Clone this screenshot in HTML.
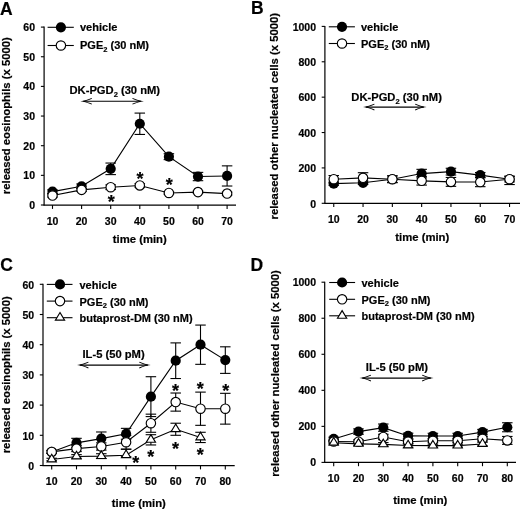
<!DOCTYPE html>
<html><head><meta charset="utf-8"><style>
html,body{margin:0;padding:0;background:#fff;}
body{width:520px;height:511px;overflow:hidden;}
svg{display:block;filter:blur(0.3px);}
text{font-family:"Liberation Sans", sans-serif;font-weight:bold;fill:#000;stroke:#000;stroke-width:0.2px;}
</style></head><body>
<svg width="520" height="511" viewBox="0 0 520 511" stroke="#000" stroke-linecap="butt">
<g stroke="none">
</g>
<g>
<line x1="44.1" y1="26.6" x2="44.1" y2="205.6" stroke-width="1.2"/>
<line x1="43.6" y1="205.1" x2="236" y2="205.1" stroke-width="1.2"/>
<line x1="40.9" y1="205" x2="44.1" y2="205" stroke-width="1.1"/>
<text x="35" y="208.9" font-size="10.5" text-anchor="end" >0</text>
<line x1="40.9" y1="175.35" x2="44.1" y2="175.35" stroke-width="1.1"/>
<text x="35" y="179.25" font-size="10.5" text-anchor="end" >10</text>
<line x1="40.9" y1="145.7" x2="44.1" y2="145.7" stroke-width="1.1"/>
<text x="35" y="149.6" font-size="10.5" text-anchor="end" >20</text>
<line x1="40.9" y1="116.05" x2="44.1" y2="116.05" stroke-width="1.1"/>
<text x="35" y="119.95" font-size="10.5" text-anchor="end" >30</text>
<line x1="40.9" y1="86.4" x2="44.1" y2="86.4" stroke-width="1.1"/>
<text x="35" y="90.3" font-size="10.5" text-anchor="end" >40</text>
<line x1="40.9" y1="56.75" x2="44.1" y2="56.75" stroke-width="1.1"/>
<text x="35" y="60.65" font-size="10.5" text-anchor="end" >50</text>
<line x1="40.9" y1="27.1" x2="44.1" y2="27.1" stroke-width="1.1"/>
<text x="35" y="31" font-size="10.5" text-anchor="end" >60</text>
<line x1="52.5" y1="205.1" x2="52.5" y2="208.9" stroke-width="1.1"/>
<text x="52.5" y="224.6" font-size="10.5" text-anchor="middle" >10</text>
<line x1="81.6" y1="205.1" x2="81.6" y2="208.9" stroke-width="1.1"/>
<text x="81.6" y="224.6" font-size="10.5" text-anchor="middle" >20</text>
<line x1="110.7" y1="205.1" x2="110.7" y2="208.9" stroke-width="1.1"/>
<text x="110.7" y="224.6" font-size="10.5" text-anchor="middle" >30</text>
<line x1="139.8" y1="205.1" x2="139.8" y2="208.9" stroke-width="1.1"/>
<text x="139.8" y="224.6" font-size="10.5" text-anchor="middle" >40</text>
<line x1="168.9" y1="205.1" x2="168.9" y2="208.9" stroke-width="1.1"/>
<text x="168.9" y="224.6" font-size="10.5" text-anchor="middle" >50</text>
<line x1="198" y1="205.1" x2="198" y2="208.9" stroke-width="1.1"/>
<text x="198" y="224.6" font-size="10.5" text-anchor="middle" >60</text>
<line x1="227.1" y1="205.1" x2="227.1" y2="208.9" stroke-width="1.1"/>
<text x="227.1" y="224.6" font-size="10.5" text-anchor="middle" >70</text>
<text x="139.8" y="243.2" font-size="11.3" text-anchor="middle" >time (min)</text>
<text transform="translate(9.6,115.7) rotate(-90)" font-size="11.3" text-anchor="middle">released eosinophils (x 5000)</text>
<text transform="translate(0,14.5) scale(1,1.08)" font-size="17.5">A</text>
<polyline fill="none" stroke-width="1.1" points="52.5,191.66 81.6,186.32 110.7,168.83 139.8,123.76 168.9,156.67 198,176.54 227.1,175.94"/>
<polyline fill="none" stroke-width="1.1" points="52.5,195.51 81.6,189.88 110.7,187.21 139.8,185.43 168.9,192.99 198,192.1 227.1,193.58"/>
<line x1="52.5" y1="189.88" x2="52.5" y2="193.44" stroke-width="1.1"/>
<line x1="47.25" y1="189.88" x2="57.75" y2="189.88" stroke-width="1.1"/>
<line x1="47.25" y1="193.44" x2="57.75" y2="193.44" stroke-width="1.1"/>
<line x1="81.6" y1="183.95" x2="81.6" y2="188.69" stroke-width="1.1"/>
<line x1="76.35" y1="183.95" x2="86.85" y2="183.95" stroke-width="1.1"/>
<line x1="76.35" y1="188.69" x2="86.85" y2="188.69" stroke-width="1.1"/>
<line x1="110.7" y1="163.05" x2="110.7" y2="174.61" stroke-width="1.1"/>
<line x1="105.45" y1="163.05" x2="115.95" y2="163.05" stroke-width="1.1"/>
<line x1="105.45" y1="174.61" x2="115.95" y2="174.61" stroke-width="1.1"/>
<line x1="139.8" y1="113.09" x2="139.8" y2="134.43" stroke-width="1.1"/>
<line x1="134.55" y1="113.09" x2="145.05" y2="113.09" stroke-width="1.1"/>
<line x1="134.55" y1="134.43" x2="145.05" y2="134.43" stroke-width="1.1"/>
<line x1="168.9" y1="153.71" x2="168.9" y2="159.64" stroke-width="1.1"/>
<line x1="163.65" y1="153.71" x2="174.15" y2="153.71" stroke-width="1.1"/>
<line x1="163.65" y1="159.64" x2="174.15" y2="159.64" stroke-width="1.1"/>
<line x1="198" y1="172.38" x2="198" y2="180.69" stroke-width="1.1"/>
<line x1="192.75" y1="172.38" x2="203.25" y2="172.38" stroke-width="1.1"/>
<line x1="192.75" y1="180.69" x2="203.25" y2="180.69" stroke-width="1.1"/>
<line x1="227.1" y1="165.86" x2="227.1" y2="186.02" stroke-width="1.1"/>
<line x1="221.85" y1="165.86" x2="232.35" y2="165.86" stroke-width="1.1"/>
<line x1="221.85" y1="186.02" x2="232.35" y2="186.02" stroke-width="1.1"/>
<line x1="52.5" y1="194.03" x2="52.5" y2="196.99" stroke-width="1.1"/>
<line x1="47.25" y1="194.03" x2="57.75" y2="194.03" stroke-width="1.1"/>
<line x1="47.25" y1="196.99" x2="57.75" y2="196.99" stroke-width="1.1"/>
<line x1="81.6" y1="188.4" x2="81.6" y2="191.36" stroke-width="1.1"/>
<line x1="76.35" y1="188.4" x2="86.85" y2="188.4" stroke-width="1.1"/>
<line x1="76.35" y1="191.36" x2="86.85" y2="191.36" stroke-width="1.1"/>
<line x1="110.7" y1="184.84" x2="110.7" y2="189.58" stroke-width="1.1"/>
<line x1="105.45" y1="184.84" x2="115.95" y2="184.84" stroke-width="1.1"/>
<line x1="105.45" y1="189.58" x2="115.95" y2="189.58" stroke-width="1.1"/>
<line x1="139.8" y1="183.65" x2="139.8" y2="187.21" stroke-width="1.1"/>
<line x1="134.55" y1="183.65" x2="145.05" y2="183.65" stroke-width="1.1"/>
<line x1="134.55" y1="187.21" x2="145.05" y2="187.21" stroke-width="1.1"/>
<line x1="168.9" y1="191.81" x2="168.9" y2="194.18" stroke-width="1.1"/>
<line x1="163.65" y1="191.81" x2="174.15" y2="191.81" stroke-width="1.1"/>
<line x1="163.65" y1="194.18" x2="174.15" y2="194.18" stroke-width="1.1"/>
<line x1="198" y1="190.92" x2="198" y2="193.29" stroke-width="1.1"/>
<line x1="192.75" y1="190.92" x2="203.25" y2="190.92" stroke-width="1.1"/>
<line x1="192.75" y1="193.29" x2="203.25" y2="193.29" stroke-width="1.1"/>
<line x1="227.1" y1="192.1" x2="227.1" y2="195.07" stroke-width="1.1"/>
<line x1="221.85" y1="192.1" x2="232.35" y2="192.1" stroke-width="1.1"/>
<line x1="221.85" y1="195.07" x2="232.35" y2="195.07" stroke-width="1.1"/>
<circle cx="52.5" cy="191.66" r="5.1" fill="#000" stroke="none"/>
<circle cx="81.6" cy="186.32" r="5.1" fill="#000" stroke="none"/>
<circle cx="110.7" cy="168.83" r="5.1" fill="#000" stroke="none"/>
<circle cx="139.8" cy="123.76" r="5.1" fill="#000" stroke="none"/>
<circle cx="168.9" cy="156.67" r="5.1" fill="#000" stroke="none"/>
<circle cx="198" cy="176.54" r="5.1" fill="#000" stroke="none"/>
<circle cx="227.1" cy="175.94" r="5.1" fill="#000" stroke="none"/>
<circle cx="52.5" cy="195.51" r="4.7" fill="#fff" stroke-width="1.15"/>
<circle cx="81.6" cy="189.88" r="4.7" fill="#fff" stroke-width="1.15"/>
<circle cx="110.7" cy="187.21" r="4.7" fill="#fff" stroke-width="1.15"/>
<circle cx="139.8" cy="185.43" r="4.7" fill="#fff" stroke-width="1.15"/>
<circle cx="168.9" cy="192.99" r="4.7" fill="#fff" stroke-width="1.15"/>
<circle cx="198" cy="192.1" r="4.7" fill="#fff" stroke-width="1.15"/>
<circle cx="227.1" cy="193.58" r="4.7" fill="#fff" stroke-width="1.15"/>
<line x1="47.6" y1="27.3" x2="73.8" y2="27.3" stroke-width="1.1"/>
<circle cx="60.9" cy="27.3" r="5.1" fill="#000" stroke="none"/>
<text x="80" y="31.1" font-size="11" text-anchor="start" >vehicle</text>
<line x1="47.6" y1="45.5" x2="73.8" y2="45.5" stroke-width="1.1"/>
<circle cx="60.9" cy="45.5" r="4.7" fill="#fff" stroke-width="1.15"/>
<text x="80" y="49.3" font-size="11" text-anchor="start" >PGE<tspan font-size="7.5" dy="2.5">2</tspan><tspan dy="-2.5"> (30 nM)</tspan></text>
<line x1="83.2" y1="101.3" x2="141.1" y2="101.3" stroke-width="1.1"/>
<path d="M80.4 101.3C84.4 100.7 88.4 99.5 91.6 98L92 98.8C88.4 100.2 85.9 100.9 84.9 101.3C85.9 101.7 88.4 102.4 92 103.8L91.6 104.6C88.4 103.1 84.4 101.9 80.4 101.3Z" fill="#000" stroke="none"/>
<path d="M143.9 101.3C139.9 100.7 135.9 99.5 132.7 98L132.3 98.8C135.9 100.2 138.4 100.9 139.4 101.3C138.4 101.7 135.9 102.4 132.3 103.8L132.7 104.6C135.9 103.1 139.9 101.9 143.9 101.3Z" fill="#000" stroke="none"/>
<text x="69.5" y="94.3" font-size="11.2" text-anchor="start" >DK-PGD<tspan font-size="7.5" dy="2.5">2</tspan><tspan dy="-2.5"> (30 nM)</tspan></text>
<text x="111.3" y="207.67" font-size="18" text-anchor="middle" >*</text>
<text x="140.1" y="184.57" font-size="18" text-anchor="middle" >*</text>
<text x="169.2" y="191.47" font-size="18" text-anchor="middle" >*</text>
</g>
<g>
<line x1="324.9" y1="25.9" x2="324.9" y2="203.8" stroke-width="1.2"/>
<line x1="324.4" y1="203.3" x2="520" y2="203.3" stroke-width="1.2"/>
<line x1="321.7" y1="203.3" x2="324.9" y2="203.3" stroke-width="1.1"/>
<text x="316" y="207.6" font-size="10.5" text-anchor="end" >0</text>
<line x1="321.7" y1="167.92" x2="324.9" y2="167.92" stroke-width="1.1"/>
<text x="316" y="172.22" font-size="10.5" text-anchor="end" >200</text>
<line x1="321.7" y1="132.54" x2="324.9" y2="132.54" stroke-width="1.1"/>
<text x="316" y="136.84" font-size="10.5" text-anchor="end" >400</text>
<line x1="321.7" y1="97.16" x2="324.9" y2="97.16" stroke-width="1.1"/>
<text x="316" y="101.46" font-size="10.5" text-anchor="end" >600</text>
<line x1="321.7" y1="61.78" x2="324.9" y2="61.78" stroke-width="1.1"/>
<text x="316" y="66.08" font-size="10.5" text-anchor="end" >800</text>
<line x1="321.7" y1="26.4" x2="324.9" y2="26.4" stroke-width="1.1"/>
<text x="316" y="30.7" font-size="10.5" text-anchor="end" >1000</text>
<line x1="333.75" y1="203.3" x2="333.75" y2="207.1" stroke-width="1.1"/>
<text x="333.75" y="222.7" font-size="10.5" text-anchor="middle" >10</text>
<line x1="363.05" y1="203.3" x2="363.05" y2="207.1" stroke-width="1.1"/>
<text x="363.05" y="222.7" font-size="10.5" text-anchor="middle" >20</text>
<line x1="392.35" y1="203.3" x2="392.35" y2="207.1" stroke-width="1.1"/>
<text x="392.35" y="222.7" font-size="10.5" text-anchor="middle" >30</text>
<line x1="421.65" y1="203.3" x2="421.65" y2="207.1" stroke-width="1.1"/>
<text x="421.65" y="222.7" font-size="10.5" text-anchor="middle" >40</text>
<line x1="450.95" y1="203.3" x2="450.95" y2="207.1" stroke-width="1.1"/>
<text x="450.95" y="222.7" font-size="10.5" text-anchor="middle" >50</text>
<line x1="480.25" y1="203.3" x2="480.25" y2="207.1" stroke-width="1.1"/>
<text x="480.25" y="222.7" font-size="10.5" text-anchor="middle" >60</text>
<line x1="509.55" y1="203.3" x2="509.55" y2="207.1" stroke-width="1.1"/>
<text x="509.55" y="222.7" font-size="10.5" text-anchor="middle" >70</text>
<text x="422.3" y="240.9" font-size="11.3" text-anchor="middle" >time (min)</text>
<text transform="translate(278,116.2) rotate(-90)" font-size="11.3" text-anchor="middle">released other nucleated cells (x 5000)</text>
<text transform="translate(251,13.6) scale(1,1.08)" font-size="17.5">B</text>
<polyline fill="none" stroke-width="1.1" points="333.75,183.66 363.05,182.78 392.35,179.24 421.65,173.58 450.95,171.63 480.25,175.17 509.55,179.24"/>
<polyline fill="none" stroke-width="1.1" points="333.75,179.24 363.05,177.83 392.35,179.24 421.65,180.83 450.95,181.9 480.25,182.07 509.55,179.24"/>
<line x1="333.75" y1="182.07" x2="333.75" y2="185.26" stroke-width="1.1"/>
<line x1="328.5" y1="182.07" x2="339" y2="182.07" stroke-width="1.1"/>
<line x1="328.5" y1="185.26" x2="339" y2="185.26" stroke-width="1.1"/>
<line x1="363.05" y1="181.01" x2="363.05" y2="184.55" stroke-width="1.1"/>
<line x1="357.8" y1="181.01" x2="368.3" y2="181.01" stroke-width="1.1"/>
<line x1="357.8" y1="184.55" x2="368.3" y2="184.55" stroke-width="1.1"/>
<line x1="392.35" y1="175.88" x2="392.35" y2="182.6" stroke-width="1.1"/>
<line x1="387.1" y1="175.88" x2="397.6" y2="175.88" stroke-width="1.1"/>
<line x1="387.1" y1="182.6" x2="397.6" y2="182.6" stroke-width="1.1"/>
<line x1="421.65" y1="169.34" x2="421.65" y2="177.83" stroke-width="1.1"/>
<line x1="416.4" y1="169.34" x2="426.9" y2="169.34" stroke-width="1.1"/>
<line x1="416.4" y1="177.83" x2="426.9" y2="177.83" stroke-width="1.1"/>
<line x1="450.95" y1="168.27" x2="450.95" y2="175" stroke-width="1.1"/>
<line x1="445.7" y1="168.27" x2="456.2" y2="168.27" stroke-width="1.1"/>
<line x1="445.7" y1="175" x2="456.2" y2="175" stroke-width="1.1"/>
<line x1="480.25" y1="172.52" x2="480.25" y2="177.83" stroke-width="1.1"/>
<line x1="475" y1="172.52" x2="485.5" y2="172.52" stroke-width="1.1"/>
<line x1="475" y1="177.83" x2="485.5" y2="177.83" stroke-width="1.1"/>
<line x1="509.55" y1="176.59" x2="509.55" y2="181.9" stroke-width="1.1"/>
<line x1="504.3" y1="176.59" x2="514.8" y2="176.59" stroke-width="1.1"/>
<line x1="504.3" y1="181.9" x2="514.8" y2="181.9" stroke-width="1.1"/>
<line x1="333.75" y1="175.53" x2="333.75" y2="182.96" stroke-width="1.1"/>
<line x1="328.5" y1="175.53" x2="339" y2="175.53" stroke-width="1.1"/>
<line x1="328.5" y1="182.96" x2="339" y2="182.96" stroke-width="1.1"/>
<line x1="363.05" y1="172.7" x2="363.05" y2="182.96" stroke-width="1.1"/>
<line x1="357.8" y1="172.7" x2="368.3" y2="172.7" stroke-width="1.1"/>
<line x1="357.8" y1="182.96" x2="368.3" y2="182.96" stroke-width="1.1"/>
<line x1="392.35" y1="175.88" x2="392.35" y2="182.6" stroke-width="1.1"/>
<line x1="387.1" y1="175.88" x2="397.6" y2="175.88" stroke-width="1.1"/>
<line x1="387.1" y1="182.6" x2="397.6" y2="182.6" stroke-width="1.1"/>
<line x1="421.65" y1="176.59" x2="421.65" y2="185.08" stroke-width="1.1"/>
<line x1="416.4" y1="176.59" x2="426.9" y2="176.59" stroke-width="1.1"/>
<line x1="416.4" y1="185.08" x2="426.9" y2="185.08" stroke-width="1.1"/>
<line x1="450.95" y1="177.47" x2="450.95" y2="186.32" stroke-width="1.1"/>
<line x1="445.7" y1="177.47" x2="456.2" y2="177.47" stroke-width="1.1"/>
<line x1="445.7" y1="186.32" x2="456.2" y2="186.32" stroke-width="1.1"/>
<line x1="480.25" y1="177.47" x2="480.25" y2="186.67" stroke-width="1.1"/>
<line x1="475" y1="177.47" x2="485.5" y2="177.47" stroke-width="1.1"/>
<line x1="475" y1="186.67" x2="485.5" y2="186.67" stroke-width="1.1"/>
<line x1="509.55" y1="176.06" x2="509.55" y2="184.55" stroke-width="1.1"/>
<line x1="504.3" y1="176.06" x2="514.8" y2="176.06" stroke-width="1.1"/>
<line x1="504.3" y1="184.55" x2="514.8" y2="184.55" stroke-width="1.1"/>
<circle cx="333.75" cy="183.66" r="5.1" fill="#000" stroke="none"/>
<circle cx="363.05" cy="182.78" r="5.1" fill="#000" stroke="none"/>
<circle cx="392.35" cy="179.24" r="5.1" fill="#000" stroke="none"/>
<circle cx="421.65" cy="173.58" r="5.1" fill="#000" stroke="none"/>
<circle cx="450.95" cy="171.63" r="5.1" fill="#000" stroke="none"/>
<circle cx="480.25" cy="175.17" r="5.1" fill="#000" stroke="none"/>
<circle cx="509.55" cy="179.24" r="5.1" fill="#000" stroke="none"/>
<circle cx="333.75" cy="179.24" r="4.7" fill="#fff" stroke-width="1.15"/>
<circle cx="363.05" cy="177.83" r="4.7" fill="#fff" stroke-width="1.15"/>
<circle cx="392.35" cy="179.24" r="4.7" fill="#fff" stroke-width="1.15"/>
<circle cx="421.65" cy="180.83" r="4.7" fill="#fff" stroke-width="1.15"/>
<circle cx="450.95" cy="181.9" r="4.7" fill="#fff" stroke-width="1.15"/>
<circle cx="480.25" cy="182.07" r="4.7" fill="#fff" stroke-width="1.15"/>
<circle cx="509.55" cy="179.24" r="4.7" fill="#fff" stroke-width="1.15"/>
<line x1="328.8" y1="26.8" x2="354.9" y2="26.8" stroke-width="1.1"/>
<circle cx="342" cy="26.8" r="5.1" fill="#000" stroke="none"/>
<text x="361" y="31.2" font-size="11" text-anchor="start" >vehicle</text>
<line x1="328.8" y1="43.5" x2="354.9" y2="43.5" stroke-width="1.1"/>
<circle cx="342" cy="43.5" r="4.7" fill="#fff" stroke-width="1.15"/>
<text x="361" y="47.9" font-size="11" text-anchor="start" >PGE<tspan font-size="7.5" dy="2.5">2</tspan><tspan dy="-2.5"> (30 nM)</tspan></text>
<line x1="365.8" y1="107.1" x2="423.8" y2="107.1" stroke-width="1.1"/>
<path d="M363 107.1C367 106.5 371 105.3 374.2 103.8L374.6 104.6C371 106 368.5 106.7 367.5 107.1C368.5 107.5 371 108.2 374.6 109.6L374.2 110.4C371 108.9 367 107.7 363 107.1Z" fill="#000" stroke="none"/>
<path d="M426.6 107.1C422.6 106.5 418.6 105.3 415.4 103.8L415 104.6C418.6 106 421.1 106.7 422.1 107.1C421.1 107.5 418.6 108.2 415 109.6L415.4 110.4C418.6 108.9 422.6 107.7 426.6 107.1Z" fill="#000" stroke="none"/>
<text x="351.3" y="101.2" font-size="11.2" text-anchor="start" >DK-PGD<tspan font-size="7.5" dy="2.5">2</tspan><tspan dy="-2.5"> (30 nM)</tspan></text>
</g>
<g>
<line x1="43" y1="283.8" x2="43" y2="466.1" stroke-width="1.2"/>
<line x1="42.5" y1="465.6" x2="234.7" y2="465.6" stroke-width="1.2"/>
<line x1="39.8" y1="465.5" x2="43" y2="465.5" stroke-width="1.1"/>
<text x="34.2" y="469.7" font-size="10.5" text-anchor="end" >0</text>
<line x1="39.8" y1="435.3" x2="43" y2="435.3" stroke-width="1.1"/>
<text x="34.2" y="439.5" font-size="10.5" text-anchor="end" >10</text>
<line x1="39.8" y1="405.1" x2="43" y2="405.1" stroke-width="1.1"/>
<text x="34.2" y="409.3" font-size="10.5" text-anchor="end" >20</text>
<line x1="39.8" y1="374.9" x2="43" y2="374.9" stroke-width="1.1"/>
<text x="34.2" y="379.1" font-size="10.5" text-anchor="end" >30</text>
<line x1="39.8" y1="344.7" x2="43" y2="344.7" stroke-width="1.1"/>
<text x="34.2" y="348.9" font-size="10.5" text-anchor="end" >40</text>
<line x1="39.8" y1="314.5" x2="43" y2="314.5" stroke-width="1.1"/>
<text x="34.2" y="318.7" font-size="10.5" text-anchor="end" >50</text>
<line x1="39.8" y1="284.3" x2="43" y2="284.3" stroke-width="1.1"/>
<text x="34.2" y="288.5" font-size="10.5" text-anchor="end" >60</text>
<line x1="51.7" y1="465.6" x2="51.7" y2="469.4" stroke-width="1.1"/>
<text x="51.7" y="484.8" font-size="10.5" text-anchor="middle" >10</text>
<line x1="76.5" y1="465.6" x2="76.5" y2="469.4" stroke-width="1.1"/>
<text x="76.5" y="484.8" font-size="10.5" text-anchor="middle" >20</text>
<line x1="101.3" y1="465.6" x2="101.3" y2="469.4" stroke-width="1.1"/>
<text x="101.3" y="484.8" font-size="10.5" text-anchor="middle" >30</text>
<line x1="126.1" y1="465.6" x2="126.1" y2="469.4" stroke-width="1.1"/>
<text x="126.1" y="484.8" font-size="10.5" text-anchor="middle" >40</text>
<line x1="150.9" y1="465.6" x2="150.9" y2="469.4" stroke-width="1.1"/>
<text x="150.9" y="484.8" font-size="10.5" text-anchor="middle" >50</text>
<line x1="175.7" y1="465.6" x2="175.7" y2="469.4" stroke-width="1.1"/>
<text x="175.7" y="484.8" font-size="10.5" text-anchor="middle" >60</text>
<line x1="200.5" y1="465.6" x2="200.5" y2="469.4" stroke-width="1.1"/>
<text x="200.5" y="484.8" font-size="10.5" text-anchor="middle" >70</text>
<line x1="225.3" y1="465.6" x2="225.3" y2="469.4" stroke-width="1.1"/>
<text x="225.3" y="484.8" font-size="10.5" text-anchor="middle" >80</text>
<text x="138.85" y="507.4" font-size="11.3" text-anchor="middle" >time (min)</text>
<text transform="translate(9.5,374.8) rotate(-90)" font-size="11.3" text-anchor="middle">released eosinophils (x 5000)</text>
<text transform="translate(0.2,270.8) scale(1,1.08)" font-size="17.5">C</text>
<polyline fill="none" stroke-width="1.1" points="51.7,451.91 76.5,442.85 101.3,438.62 126.1,433.79 150.9,396.64 175.7,360.71 200.5,344.7 225.3,360.1"/>
<polyline fill="none" stroke-width="1.1" points="51.7,451.91 76.5,448.59 101.3,446.47 126.1,442.25 150.9,423.22 175.7,402.08 200.5,408.72 225.3,408.72"/>
<polyline fill="none" stroke-width="1.1" points="51.7,459.46 76.5,456.44 101.3,456.14 126.1,455.23 150.9,439.83 175.7,429.26 200.5,437.41"/>
<line x1="51.7" y1="450.4" x2="51.7" y2="453.42" stroke-width="1.1"/>
<line x1="46.45" y1="450.4" x2="56.95" y2="450.4" stroke-width="1.1"/>
<line x1="46.45" y1="453.42" x2="56.95" y2="453.42" stroke-width="1.1"/>
<line x1="76.5" y1="438.32" x2="76.5" y2="447.38" stroke-width="1.1"/>
<line x1="71.25" y1="438.32" x2="81.75" y2="438.32" stroke-width="1.1"/>
<line x1="71.25" y1="447.38" x2="81.75" y2="447.38" stroke-width="1.1"/>
<line x1="101.3" y1="431.98" x2="101.3" y2="445.27" stroke-width="1.1"/>
<line x1="96.05" y1="431.98" x2="106.55" y2="431.98" stroke-width="1.1"/>
<line x1="96.05" y1="445.27" x2="106.55" y2="445.27" stroke-width="1.1"/>
<line x1="126.1" y1="428.35" x2="126.1" y2="439.23" stroke-width="1.1"/>
<line x1="120.85" y1="428.35" x2="131.35" y2="428.35" stroke-width="1.1"/>
<line x1="120.85" y1="439.23" x2="131.35" y2="439.23" stroke-width="1.1"/>
<line x1="150.9" y1="376.71" x2="150.9" y2="416.58" stroke-width="1.1"/>
<line x1="145.65" y1="376.71" x2="156.15" y2="376.71" stroke-width="1.1"/>
<line x1="145.65" y1="416.58" x2="156.15" y2="416.58" stroke-width="1.1"/>
<line x1="175.7" y1="342.89" x2="175.7" y2="378.52" stroke-width="1.1"/>
<line x1="170.45" y1="342.89" x2="180.95" y2="342.89" stroke-width="1.1"/>
<line x1="170.45" y1="378.52" x2="180.95" y2="378.52" stroke-width="1.1"/>
<line x1="200.5" y1="325.07" x2="200.5" y2="364.33" stroke-width="1.1"/>
<line x1="195.25" y1="325.07" x2="205.75" y2="325.07" stroke-width="1.1"/>
<line x1="195.25" y1="364.33" x2="205.75" y2="364.33" stroke-width="1.1"/>
<line x1="225.3" y1="346.81" x2="225.3" y2="373.39" stroke-width="1.1"/>
<line x1="220.05" y1="346.81" x2="230.55" y2="346.81" stroke-width="1.1"/>
<line x1="220.05" y1="373.39" x2="230.55" y2="373.39" stroke-width="1.1"/>
<line x1="51.7" y1="450.4" x2="51.7" y2="453.42" stroke-width="1.1"/>
<line x1="46.45" y1="450.4" x2="56.95" y2="450.4" stroke-width="1.1"/>
<line x1="46.45" y1="453.42" x2="56.95" y2="453.42" stroke-width="1.1"/>
<line x1="76.5" y1="445.57" x2="76.5" y2="451.61" stroke-width="1.1"/>
<line x1="71.25" y1="445.57" x2="81.75" y2="445.57" stroke-width="1.1"/>
<line x1="71.25" y1="451.61" x2="81.75" y2="451.61" stroke-width="1.1"/>
<line x1="101.3" y1="442.85" x2="101.3" y2="450.1" stroke-width="1.1"/>
<line x1="96.05" y1="442.85" x2="106.55" y2="442.85" stroke-width="1.1"/>
<line x1="96.05" y1="450.1" x2="106.55" y2="450.1" stroke-width="1.1"/>
<line x1="126.1" y1="435.3" x2="126.1" y2="449.19" stroke-width="1.1"/>
<line x1="120.85" y1="435.3" x2="131.35" y2="435.3" stroke-width="1.1"/>
<line x1="120.85" y1="449.19" x2="131.35" y2="449.19" stroke-width="1.1"/>
<line x1="150.9" y1="414.16" x2="150.9" y2="432.28" stroke-width="1.1"/>
<line x1="145.65" y1="414.16" x2="156.15" y2="414.16" stroke-width="1.1"/>
<line x1="145.65" y1="432.28" x2="156.15" y2="432.28" stroke-width="1.1"/>
<line x1="175.7" y1="393.02" x2="175.7" y2="411.14" stroke-width="1.1"/>
<line x1="170.45" y1="393.02" x2="180.95" y2="393.02" stroke-width="1.1"/>
<line x1="170.45" y1="411.14" x2="180.95" y2="411.14" stroke-width="1.1"/>
<line x1="200.5" y1="392.11" x2="200.5" y2="425.33" stroke-width="1.1"/>
<line x1="195.25" y1="392.11" x2="205.75" y2="392.11" stroke-width="1.1"/>
<line x1="195.25" y1="425.33" x2="205.75" y2="425.33" stroke-width="1.1"/>
<line x1="225.3" y1="393.32" x2="225.3" y2="424.13" stroke-width="1.1"/>
<line x1="220.05" y1="393.32" x2="230.55" y2="393.32" stroke-width="1.1"/>
<line x1="220.05" y1="424.13" x2="230.55" y2="424.13" stroke-width="1.1"/>
<line x1="51.7" y1="458.25" x2="51.7" y2="460.67" stroke-width="1.1"/>
<line x1="46.45" y1="458.25" x2="56.95" y2="458.25" stroke-width="1.1"/>
<line x1="46.45" y1="460.67" x2="56.95" y2="460.67" stroke-width="1.1"/>
<line x1="76.5" y1="454.63" x2="76.5" y2="458.25" stroke-width="1.1"/>
<line x1="71.25" y1="454.63" x2="81.75" y2="454.63" stroke-width="1.1"/>
<line x1="71.25" y1="458.25" x2="81.75" y2="458.25" stroke-width="1.1"/>
<line x1="101.3" y1="453.72" x2="101.3" y2="458.55" stroke-width="1.1"/>
<line x1="96.05" y1="453.72" x2="106.55" y2="453.72" stroke-width="1.1"/>
<line x1="96.05" y1="458.55" x2="106.55" y2="458.55" stroke-width="1.1"/>
<line x1="126.1" y1="449.19" x2="126.1" y2="456.74" stroke-width="1.1"/>
<line x1="120.85" y1="449.19" x2="131.35" y2="449.19" stroke-width="1.1"/>
<line x1="120.85" y1="456.74" x2="131.35" y2="456.74" stroke-width="1.1"/>
<line x1="150.9" y1="434.7" x2="150.9" y2="444.96" stroke-width="1.1"/>
<line x1="145.65" y1="434.7" x2="156.15" y2="434.7" stroke-width="1.1"/>
<line x1="145.65" y1="444.96" x2="156.15" y2="444.96" stroke-width="1.1"/>
<line x1="175.7" y1="423.22" x2="175.7" y2="435.3" stroke-width="1.1"/>
<line x1="170.45" y1="423.22" x2="180.95" y2="423.22" stroke-width="1.1"/>
<line x1="170.45" y1="435.3" x2="180.95" y2="435.3" stroke-width="1.1"/>
<line x1="200.5" y1="432.28" x2="200.5" y2="442.55" stroke-width="1.1"/>
<line x1="195.25" y1="432.28" x2="205.75" y2="432.28" stroke-width="1.1"/>
<line x1="195.25" y1="442.55" x2="205.75" y2="442.55" stroke-width="1.1"/>
<circle cx="51.7" cy="451.91" r="5.1" fill="#000" stroke="none"/>
<circle cx="76.5" cy="442.85" r="5.1" fill="#000" stroke="none"/>
<circle cx="101.3" cy="438.62" r="5.1" fill="#000" stroke="none"/>
<circle cx="126.1" cy="433.79" r="5.1" fill="#000" stroke="none"/>
<circle cx="150.9" cy="396.64" r="5.1" fill="#000" stroke="none"/>
<circle cx="175.7" cy="360.71" r="5.1" fill="#000" stroke="none"/>
<circle cx="200.5" cy="344.7" r="5.1" fill="#000" stroke="none"/>
<circle cx="225.3" cy="360.1" r="5.1" fill="#000" stroke="none"/>
<circle cx="51.7" cy="451.91" r="4.7" fill="#fff" stroke-width="1.15"/>
<circle cx="76.5" cy="448.59" r="4.7" fill="#fff" stroke-width="1.15"/>
<circle cx="101.3" cy="446.47" r="4.7" fill="#fff" stroke-width="1.15"/>
<circle cx="126.1" cy="442.25" r="4.7" fill="#fff" stroke-width="1.15"/>
<circle cx="150.9" cy="423.22" r="4.7" fill="#fff" stroke-width="1.15"/>
<circle cx="175.7" cy="402.08" r="4.7" fill="#fff" stroke-width="1.15"/>
<circle cx="200.5" cy="408.72" r="4.7" fill="#fff" stroke-width="1.15"/>
<circle cx="225.3" cy="408.72" r="4.7" fill="#fff" stroke-width="1.15"/>
<path d="M51.7 454.26L56.3 461.86L47.1 461.86Z" fill="#fff" stroke-width="1.15" stroke-linejoin="miter"/>
<path d="M76.5 451.24L81.1 458.84L71.9 458.84Z" fill="#fff" stroke-width="1.15" stroke-linejoin="miter"/>
<path d="M101.3 450.94L105.9 458.54L96.7 458.54Z" fill="#fff" stroke-width="1.15" stroke-linejoin="miter"/>
<path d="M126.1 450.03L130.7 457.63L121.5 457.63Z" fill="#fff" stroke-width="1.15" stroke-linejoin="miter"/>
<path d="M150.9 434.63L155.5 442.23L146.3 442.23Z" fill="#fff" stroke-width="1.15" stroke-linejoin="miter"/>
<path d="M175.7 424.06L180.3 431.66L171.1 431.66Z" fill="#fff" stroke-width="1.15" stroke-linejoin="miter"/>
<path d="M200.5 432.21L205.1 439.81L195.9 439.81Z" fill="#fff" stroke-width="1.15" stroke-linejoin="miter"/>
<line x1="46.8" y1="284.4" x2="72.5" y2="284.4" stroke-width="1.1"/>
<circle cx="60" cy="284.4" r="5.1" fill="#000" stroke="none"/>
<text x="79.5" y="288.8" font-size="11" text-anchor="start" >vehicle</text>
<line x1="46.8" y1="301.1" x2="72.5" y2="301.1" stroke-width="1.1"/>
<circle cx="60" cy="301.1" r="4.7" fill="#fff" stroke-width="1.15"/>
<text x="79.5" y="305.5" font-size="11" text-anchor="start" >PGE<tspan font-size="7.5" dy="2.5">2</tspan><tspan dy="-2.5"> (30 nM)</tspan></text>
<line x1="46.8" y1="317.7" x2="72.5" y2="317.7" stroke-width="1.1"/>
<path d="M60 312.5L64.6 320.1L55.4 320.1Z" fill="#fff" stroke-width="1.15" stroke-linejoin="miter"/>
<text x="79.5" y="322.1" font-size="11" text-anchor="start" >butaprost-DM (30 nM)</text>
<line x1="79.8" y1="365.1" x2="147.9" y2="365.1" stroke-width="1.1"/>
<path d="M77 365.1C81 364.5 85 363.3 88.2 361.8L88.6 362.6C85 364 82.5 364.7 81.5 365.1C82.5 365.5 85 366.2 88.6 367.6L88.2 368.4C85 366.9 81 365.7 77 365.1Z" fill="#000" stroke="none"/>
<path d="M150.7 365.1C146.7 364.5 142.7 363.3 139.5 361.8L139.1 362.6C142.7 364 145.2 364.7 146.2 365.1C145.2 365.5 142.7 366.2 139.1 367.6L139.5 368.4C142.7 366.9 146.7 365.7 150.7 365.1Z" fill="#000" stroke="none"/>
<text x="82.5" y="358.3" font-size="11.2" text-anchor="start" >IL-5 (50 pM)</text>
<text x="135.7" y="468.97" font-size="18" text-anchor="middle" >*</text>
<text x="150.7" y="463.17" font-size="18" text-anchor="middle" >*</text>
<text x="175.6" y="396.57" font-size="18" text-anchor="middle" >*</text>
<text x="200.3" y="394.87" font-size="18" text-anchor="middle" >*</text>
<text x="225.7" y="396.57" font-size="18" text-anchor="middle" >*</text>
<text x="175.4" y="455.17" font-size="18" text-anchor="middle" >*</text>
<text x="200.3" y="461.37" font-size="18" text-anchor="middle" >*</text>
</g>
<g>
<line x1="324.7" y1="281.7" x2="324.7" y2="462.9" stroke-width="1.2"/>
<line x1="324.2" y1="462.4" x2="516" y2="462.4" stroke-width="1.2"/>
<line x1="321.5" y1="462.4" x2="324.7" y2="462.4" stroke-width="1.1"/>
<text x="316" y="466.3" font-size="10.5" text-anchor="end" >0</text>
<line x1="321.5" y1="426.36" x2="324.7" y2="426.36" stroke-width="1.1"/>
<text x="316" y="430.26" font-size="10.5" text-anchor="end" >200</text>
<line x1="321.5" y1="390.32" x2="324.7" y2="390.32" stroke-width="1.1"/>
<text x="316" y="394.22" font-size="10.5" text-anchor="end" >400</text>
<line x1="321.5" y1="354.28" x2="324.7" y2="354.28" stroke-width="1.1"/>
<text x="316" y="358.18" font-size="10.5" text-anchor="end" >600</text>
<line x1="321.5" y1="318.24" x2="324.7" y2="318.24" stroke-width="1.1"/>
<text x="316" y="322.14" font-size="10.5" text-anchor="end" >800</text>
<line x1="321.5" y1="282.2" x2="324.7" y2="282.2" stroke-width="1.1"/>
<text x="316" y="286.1" font-size="10.5" text-anchor="end" >1000</text>
<line x1="333.7" y1="462.4" x2="333.7" y2="466.2" stroke-width="1.1"/>
<text x="333.7" y="481.8" font-size="10.5" text-anchor="middle" >10</text>
<line x1="358.5" y1="462.4" x2="358.5" y2="466.2" stroke-width="1.1"/>
<text x="358.5" y="481.8" font-size="10.5" text-anchor="middle" >20</text>
<line x1="383.3" y1="462.4" x2="383.3" y2="466.2" stroke-width="1.1"/>
<text x="383.3" y="481.8" font-size="10.5" text-anchor="middle" >30</text>
<line x1="408.1" y1="462.4" x2="408.1" y2="466.2" stroke-width="1.1"/>
<text x="408.1" y="481.8" font-size="10.5" text-anchor="middle" >40</text>
<line x1="432.9" y1="462.4" x2="432.9" y2="466.2" stroke-width="1.1"/>
<text x="432.9" y="481.8" font-size="10.5" text-anchor="middle" >50</text>
<line x1="457.7" y1="462.4" x2="457.7" y2="466.2" stroke-width="1.1"/>
<text x="457.7" y="481.8" font-size="10.5" text-anchor="middle" >60</text>
<line x1="482.5" y1="462.4" x2="482.5" y2="466.2" stroke-width="1.1"/>
<text x="482.5" y="481.8" font-size="10.5" text-anchor="middle" >70</text>
<line x1="507.3" y1="462.4" x2="507.3" y2="466.2" stroke-width="1.1"/>
<text x="507.3" y="481.8" font-size="10.5" text-anchor="middle" >80</text>
<text x="420.35" y="504.4" font-size="11.3" text-anchor="middle" >time (min)</text>
<text transform="translate(279,373.5) rotate(-90)" font-size="11.3" text-anchor="middle">released other nucleated cells (x 5000)</text>
<text transform="translate(250.6,270.7) scale(1,1.08)" font-size="17.5">D</text>
<polyline fill="none" stroke-width="1.1" points="333.7,438.97 358.5,431.59 383.3,427.62 408.1,435.91 432.9,436 457.7,436 482.5,432.13 507.3,427.26"/>
<polyline fill="none" stroke-width="1.1" points="333.7,441.5 358.5,441.68 383.3,436.99 408.1,441.68 432.9,440.78 457.7,440.78 482.5,438.79 507.3,440.42"/>
<polyline fill="none" stroke-width="1.1" points="333.7,442.76 358.5,443.84 383.3,444.38 408.1,445.46 432.9,445.64 457.7,445.64 482.5,444.02"/>
<line x1="333.7" y1="437.17" x2="333.7" y2="440.78" stroke-width="1.1"/>
<line x1="328.45" y1="437.17" x2="338.95" y2="437.17" stroke-width="1.1"/>
<line x1="328.45" y1="440.78" x2="338.95" y2="440.78" stroke-width="1.1"/>
<line x1="358.5" y1="428.88" x2="358.5" y2="434.29" stroke-width="1.1"/>
<line x1="353.25" y1="428.88" x2="363.75" y2="428.88" stroke-width="1.1"/>
<line x1="353.25" y1="434.29" x2="363.75" y2="434.29" stroke-width="1.1"/>
<line x1="383.3" y1="424.02" x2="383.3" y2="431.23" stroke-width="1.1"/>
<line x1="378.05" y1="424.02" x2="388.55" y2="424.02" stroke-width="1.1"/>
<line x1="378.05" y1="431.23" x2="388.55" y2="431.23" stroke-width="1.1"/>
<line x1="408.1" y1="433.21" x2="408.1" y2="438.61" stroke-width="1.1"/>
<line x1="402.85" y1="433.21" x2="413.35" y2="433.21" stroke-width="1.1"/>
<line x1="402.85" y1="438.61" x2="413.35" y2="438.61" stroke-width="1.1"/>
<line x1="432.9" y1="433.3" x2="432.9" y2="438.7" stroke-width="1.1"/>
<line x1="427.65" y1="433.3" x2="438.15" y2="433.3" stroke-width="1.1"/>
<line x1="427.65" y1="438.7" x2="438.15" y2="438.7" stroke-width="1.1"/>
<line x1="457.7" y1="433.3" x2="457.7" y2="438.7" stroke-width="1.1"/>
<line x1="452.45" y1="433.3" x2="462.95" y2="433.3" stroke-width="1.1"/>
<line x1="452.45" y1="438.7" x2="462.95" y2="438.7" stroke-width="1.1"/>
<line x1="482.5" y1="429.42" x2="482.5" y2="434.83" stroke-width="1.1"/>
<line x1="477.25" y1="429.42" x2="487.75" y2="429.42" stroke-width="1.1"/>
<line x1="477.25" y1="434.83" x2="487.75" y2="434.83" stroke-width="1.1"/>
<line x1="507.3" y1="422.76" x2="507.3" y2="431.77" stroke-width="1.1"/>
<line x1="502.05" y1="422.76" x2="512.55" y2="422.76" stroke-width="1.1"/>
<line x1="502.05" y1="431.77" x2="512.55" y2="431.77" stroke-width="1.1"/>
<line x1="333.7" y1="440.06" x2="333.7" y2="442.94" stroke-width="1.1"/>
<line x1="328.45" y1="440.06" x2="338.95" y2="440.06" stroke-width="1.1"/>
<line x1="328.45" y1="442.94" x2="338.95" y2="442.94" stroke-width="1.1"/>
<line x1="358.5" y1="439.88" x2="358.5" y2="443.48" stroke-width="1.1"/>
<line x1="353.25" y1="439.88" x2="363.75" y2="439.88" stroke-width="1.1"/>
<line x1="353.25" y1="443.48" x2="363.75" y2="443.48" stroke-width="1.1"/>
<line x1="383.3" y1="434.29" x2="383.3" y2="439.69" stroke-width="1.1"/>
<line x1="378.05" y1="434.29" x2="388.55" y2="434.29" stroke-width="1.1"/>
<line x1="378.05" y1="439.69" x2="388.55" y2="439.69" stroke-width="1.1"/>
<line x1="408.1" y1="439.51" x2="408.1" y2="443.84" stroke-width="1.1"/>
<line x1="402.85" y1="439.51" x2="413.35" y2="439.51" stroke-width="1.1"/>
<line x1="402.85" y1="443.84" x2="413.35" y2="443.84" stroke-width="1.1"/>
<line x1="432.9" y1="438.97" x2="432.9" y2="442.58" stroke-width="1.1"/>
<line x1="427.65" y1="438.97" x2="438.15" y2="438.97" stroke-width="1.1"/>
<line x1="427.65" y1="442.58" x2="438.15" y2="442.58" stroke-width="1.1"/>
<line x1="457.7" y1="438.97" x2="457.7" y2="442.58" stroke-width="1.1"/>
<line x1="452.45" y1="438.97" x2="462.95" y2="438.97" stroke-width="1.1"/>
<line x1="452.45" y1="442.58" x2="462.95" y2="442.58" stroke-width="1.1"/>
<line x1="482.5" y1="436.63" x2="482.5" y2="440.96" stroke-width="1.1"/>
<line x1="477.25" y1="436.63" x2="487.75" y2="436.63" stroke-width="1.1"/>
<line x1="477.25" y1="440.96" x2="487.75" y2="440.96" stroke-width="1.1"/>
<line x1="507.3" y1="436.45" x2="507.3" y2="444.38" stroke-width="1.1"/>
<line x1="502.05" y1="436.45" x2="512.55" y2="436.45" stroke-width="1.1"/>
<line x1="502.05" y1="444.38" x2="512.55" y2="444.38" stroke-width="1.1"/>
<line x1="333.7" y1="441.32" x2="333.7" y2="444.2" stroke-width="1.1"/>
<line x1="328.45" y1="441.32" x2="338.95" y2="441.32" stroke-width="1.1"/>
<line x1="328.45" y1="444.2" x2="338.95" y2="444.2" stroke-width="1.1"/>
<line x1="358.5" y1="442.4" x2="358.5" y2="445.28" stroke-width="1.1"/>
<line x1="353.25" y1="442.4" x2="363.75" y2="442.4" stroke-width="1.1"/>
<line x1="353.25" y1="445.28" x2="363.75" y2="445.28" stroke-width="1.1"/>
<line x1="383.3" y1="442.58" x2="383.3" y2="446.18" stroke-width="1.1"/>
<line x1="378.05" y1="442.58" x2="388.55" y2="442.58" stroke-width="1.1"/>
<line x1="378.05" y1="446.18" x2="388.55" y2="446.18" stroke-width="1.1"/>
<line x1="408.1" y1="443.66" x2="408.1" y2="447.26" stroke-width="1.1"/>
<line x1="402.85" y1="443.66" x2="413.35" y2="443.66" stroke-width="1.1"/>
<line x1="402.85" y1="447.26" x2="413.35" y2="447.26" stroke-width="1.1"/>
<line x1="432.9" y1="444.2" x2="432.9" y2="447.08" stroke-width="1.1"/>
<line x1="427.65" y1="444.2" x2="438.15" y2="444.2" stroke-width="1.1"/>
<line x1="427.65" y1="447.08" x2="438.15" y2="447.08" stroke-width="1.1"/>
<line x1="457.7" y1="444.2" x2="457.7" y2="447.08" stroke-width="1.1"/>
<line x1="452.45" y1="444.2" x2="462.95" y2="444.2" stroke-width="1.1"/>
<line x1="452.45" y1="447.08" x2="462.95" y2="447.08" stroke-width="1.1"/>
<line x1="482.5" y1="442.22" x2="482.5" y2="445.82" stroke-width="1.1"/>
<line x1="477.25" y1="442.22" x2="487.75" y2="442.22" stroke-width="1.1"/>
<line x1="477.25" y1="445.82" x2="487.75" y2="445.82" stroke-width="1.1"/>
<circle cx="333.7" cy="438.97" r="5.1" fill="#000" stroke="none"/>
<circle cx="358.5" cy="431.59" r="5.1" fill="#000" stroke="none"/>
<circle cx="383.3" cy="427.62" r="5.1" fill="#000" stroke="none"/>
<circle cx="408.1" cy="435.91" r="5.1" fill="#000" stroke="none"/>
<circle cx="432.9" cy="436" r="5.1" fill="#000" stroke="none"/>
<circle cx="457.7" cy="436" r="5.1" fill="#000" stroke="none"/>
<circle cx="482.5" cy="432.13" r="5.1" fill="#000" stroke="none"/>
<circle cx="507.3" cy="427.26" r="5.1" fill="#000" stroke="none"/>
<circle cx="333.7" cy="441.5" r="4.7" fill="#fff" stroke-width="1.15"/>
<circle cx="358.5" cy="441.68" r="4.7" fill="#fff" stroke-width="1.15"/>
<circle cx="383.3" cy="436.99" r="4.7" fill="#fff" stroke-width="1.15"/>
<circle cx="408.1" cy="441.68" r="4.7" fill="#fff" stroke-width="1.15"/>
<circle cx="432.9" cy="440.78" r="4.7" fill="#fff" stroke-width="1.15"/>
<circle cx="457.7" cy="440.78" r="4.7" fill="#fff" stroke-width="1.15"/>
<circle cx="482.5" cy="438.79" r="4.7" fill="#fff" stroke-width="1.15"/>
<circle cx="507.3" cy="440.42" r="4.7" fill="#fff" stroke-width="1.15"/>
<path d="M333.7 437.56L338.3 445.16L329.1 445.16Z" fill="#fff" stroke-width="1.15" stroke-linejoin="miter"/>
<path d="M358.5 438.64L363.1 446.24L353.9 446.24Z" fill="#fff" stroke-width="1.15" stroke-linejoin="miter"/>
<path d="M383.3 439.18L387.9 446.78L378.7 446.78Z" fill="#fff" stroke-width="1.15" stroke-linejoin="miter"/>
<path d="M408.1 440.26L412.7 447.86L403.5 447.86Z" fill="#fff" stroke-width="1.15" stroke-linejoin="miter"/>
<path d="M432.9 440.44L437.5 448.04L428.3 448.04Z" fill="#fff" stroke-width="1.15" stroke-linejoin="miter"/>
<path d="M457.7 440.44L462.3 448.04L453.1 448.04Z" fill="#fff" stroke-width="1.15" stroke-linejoin="miter"/>
<path d="M482.5 438.82L487.1 446.42L477.9 446.42Z" fill="#fff" stroke-width="1.15" stroke-linejoin="miter"/>
<line x1="329.2" y1="282.5" x2="355.1" y2="282.5" stroke-width="1.1"/>
<circle cx="342.1" cy="282.5" r="5.1" fill="#000" stroke="none"/>
<text x="361.5" y="286.9" font-size="11" text-anchor="start" >vehicle</text>
<line x1="329.2" y1="299.3" x2="355.1" y2="299.3" stroke-width="1.1"/>
<circle cx="342.1" cy="299.3" r="4.7" fill="#fff" stroke-width="1.15"/>
<text x="361.5" y="303.7" font-size="11" text-anchor="start" >PGE<tspan font-size="7.5" dy="2.5">2</tspan><tspan dy="-2.5"> (30 nM)</tspan></text>
<line x1="329.2" y1="315.8" x2="355.1" y2="315.8" stroke-width="1.1"/>
<path d="M342.1 310.6L346.7 318.2L337.5 318.2Z" fill="#fff" stroke-width="1.15" stroke-linejoin="miter"/>
<text x="361.5" y="320.2" font-size="11" text-anchor="start" >butaprost-DM (30 nM)</text>
<line x1="362.3" y1="378.1" x2="430.8" y2="378.1" stroke-width="1.1"/>
<path d="M359.5 378.1C363.5 377.5 367.5 376.3 370.7 374.8L371.1 375.6C367.5 377 365 377.7 364 378.1C365 378.5 367.5 379.2 371.1 380.6L370.7 381.4C367.5 379.9 363.5 378.7 359.5 378.1Z" fill="#000" stroke="none"/>
<path d="M433.6 378.1C429.6 377.5 425.6 376.3 422.4 374.8L422 375.6C425.6 377 428.1 377.7 429.1 378.1C428.1 378.5 425.6 379.2 422 380.6L422.4 381.4C425.6 379.9 429.6 378.7 433.6 378.1Z" fill="#000" stroke="none"/>
<text x="365.8" y="370.7" font-size="11.2" text-anchor="start" >IL-5 (50 pM)</text>
</g>
</svg>
</body></html>
